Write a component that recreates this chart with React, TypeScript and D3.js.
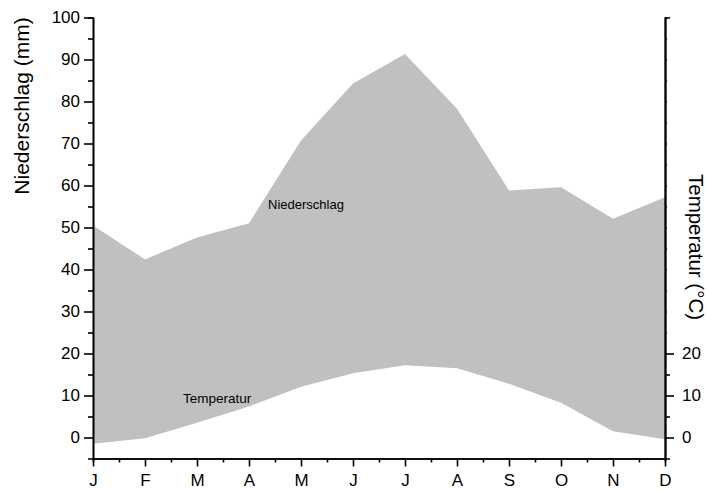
import * as d3 from "d3";
import React, { useRef, useEffect } from "react";

// Klimadiagramm: Niederschlag (mm) und Temperatur (°C), gleiche Skala
const months = ["J", "F", "M", "A", "M", "J", "J", "A", "S", "O", "N", "D"];
const niederschlag = [50.5, 42.4, 47.6, 51, 70.7, 84.3, 91.3, 78.3, 58.8, 59.6, 52.1, 57.2];
const temperatur = [-1.5, -0.2, 3.5, 7.4, 12.1, 15.3, 17.2, 16.5, 12.8, 8.3, 1.5, -0.4];
const leftTicks = [0, 10, 20, 30, 40, 50, 60, 70, 80, 90, 100];
const rightTicks = [0, 10, 20];

const W = 707;
const H = 490;
const font = "Arial, 'Liberation Sans', sans-serif";

const draw = (el: SVGSVGElement) => {
  const svg = d3.select(el);
  svg.selectAll("*").remove();

  const x = d3.scaleLinear().domain([0, months.length - 1]).range([93, 665]);
  const y = d3.scaleLinear().domain([-5, 100]).range([458.5, 17.5]);

  // Fläche zwischen Temperatur und Niederschlag
  const area = d3
    .area<number>()
    .x((d, i) => x(i))
    .y0((d, i) => y(temperatur[i]))
    .y1((d) => y(d));

  svg
    .append("path")
    .datum(niederschlag)
    .attr("d", area)
    .style("fill", "#c0c0c0")
    .style("stroke", "none");

  // linke Achse
  const gl = svg.append("g").attr("transform", "translate(93,0)");
  gl.call(
    d3.axisLeft(y).tickValues(leftTicks).tickSize(9).tickSizeOuter(0).tickPadding(4)
  );
  gl.append("g").call(
    d3
      .axisLeft(y)
      .tickValues(d3.range(5, 100, 10))
      .tickSize(5)
      .tickFormat(() => "")
  );

  // rechte Achse
  const gr = svg.append("g").attr("transform", "translate(665,0)");
  gr.call(
    d3.axisRight(y).tickValues(rightTicks).tickSize(9).tickSizeOuter(0).tickPadding(8)
  );
  gr.append("g").call(
    d3.axisRight(y).tickValues([5, 15]).tickSize(5).tickFormat(() => "")
  );
  gr.append("g").call(
    d3
      .axisRight(y)
      .tickValues(d3.range(25, 101, 5))
      .tickSize(2)
      .tickFormat(() => "")
  );

  // untere Achse
  const gb = svg.append("g").attr("transform", "translate(0,458.5)");
  gb.call(
    d3
      .axisBottom(x)
      .tickValues(d3.range(months.length))
      .tickFormat((d) => months[d as number])
      .tickSize(8)
      .tickSizeOuter(0)
      .tickPadding(7)
  );
  gb.append("g").call(
    d3
      .axisBottom(x)
      .tickValues(d3.range(0.5, 11, 1))
      .tickSize(4)
      .tickFormat(() => "")
  );

  svg.selectAll(".domain").style("stroke", "#000").style("stroke-width", 1.6);
  svg.selectAll(".tick line").style("stroke", "#000").style("stroke-width", 1.6);
  svg
    .selectAll(".tick text")
    .style("font-family", font)
    .style("font-size", "17px")
    .style("fill", "#000");

  // Achsentitel
  svg
    .append("text")
    .attr("transform", "translate(29,106) rotate(-90)")
    .style("text-anchor", "middle")
    .style("font-family", font)
    .style("font-size", "21px")
    .text("Niederschlag (mm)");

  svg
    .append("text")
    .attr("transform", "translate(689,247) rotate(90)")
    .style("text-anchor", "middle")
    .style("font-family", font)
    .style("font-size", "20.5px")
    .text("Temperatur (°C)");

  // Beschriftungen in der Fläche
  svg
    .append("text")
    .attr("x", 268)
    .attr("y", 208.5)
    .style("font-family", font)
    .style("font-size", "13px")
    .text("Niederschlag");

  svg
    .append("text")
    .attr("x", 183)
    .attr("y", 403)
    .style("font-family", font)
    .style("font-size", "13.5px")
    .text("Temperatur");
};

const App = () => {
  const ref = useRef<SVGSVGElement>(null);

  useEffect(() => {
    if (ref.current) draw(ref.current);
  }, []);

  return (
    <svg
      ref={ref}
      width={W}
      height={H}
      style={{ position: "absolute", left: 0, top: 0, background: "#fff" }}
    ></svg>
  );
};

export default App;
